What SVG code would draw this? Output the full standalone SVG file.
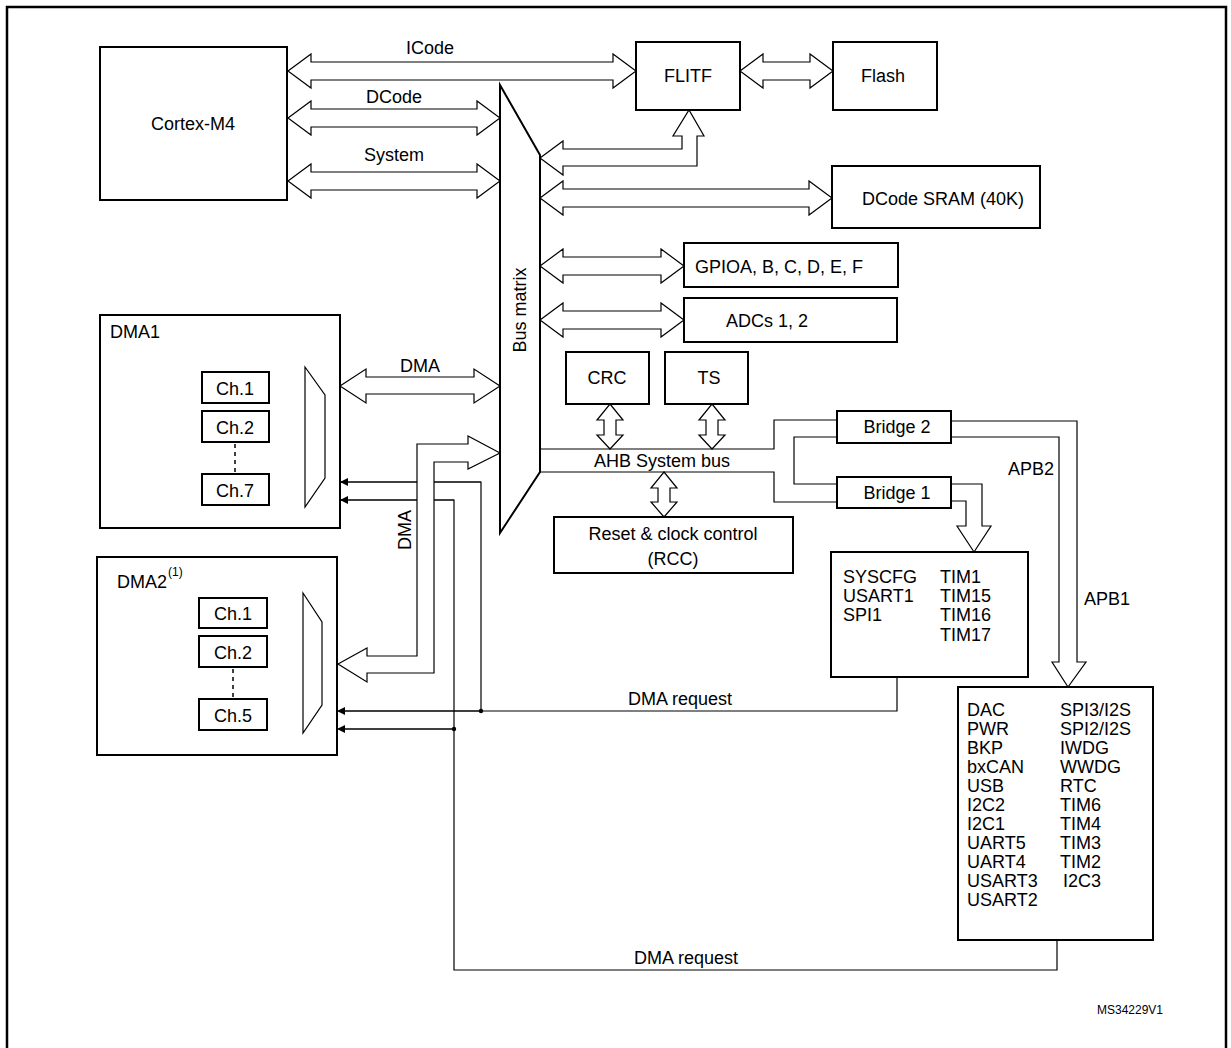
<svg xmlns="http://www.w3.org/2000/svg" width="1231" height="1048" viewBox="0 0 1231 1048">
<style>
.b{fill:#fff;stroke:#000;stroke-width:2}
.a{fill:#fff;stroke:#000;stroke-width:1.2;stroke-linejoin:miter}
.l{fill:none;stroke:#000;stroke-width:1.2}
text{font-family:"Liberation Sans",Arial,sans-serif;font-size:18px;fill:#000}
.s{font-size:12px}
</style>
<defs><marker id="ar" markerWidth="8" markerHeight="8" refX="7" refY="4" orient="auto" markerUnits="userSpaceOnUse"><path d="M0,0 L8,4 L0,8Z" fill="#000"/></marker></defs>
<rect x="0" y="0" width="1231" height="1048" fill="#fff"/>
<rect x="7" y="7" width="1219" height="1050" fill="none" stroke="#000" stroke-width="2.5"/>
<g id="connectors">
<path class="l" d="M340,482 H481 V711 M340,500 H454 V970 H1057 V940 M340,711 H897 V677 M340,729 H454"/>
<path class="l" d="M540,449 H774 V420 H837 M540,472 H774 V502 H837 M837,437 H794 V484 H837"/>
<g marker-end="url(#ar)">
<line class="l" x1="481" y1="482" x2="341" y2="482"/>
<line class="l" x1="454" y1="500" x2="341" y2="500"/>
<line class="l" x1="481" y1="711" x2="338" y2="711"/>
<line class="l" x1="454" y1="729" x2="338" y2="729"/>
<line class="l" x1="269" y1="389" x2="305" y2="389"/>
<line class="l" x1="269" y1="427" x2="305" y2="427"/>
<line class="l" x1="269" y1="489" x2="305" y2="489"/>
<line class="l" x1="267" y1="613" x2="303" y2="613"/>
<line class="l" x1="267" y1="651" x2="303" y2="651"/>
<line class="l" x1="267" y1="714" x2="303" y2="714"/>
</g>
<circle cx="481" cy="711" r="2.2"/><circle cx="454" cy="729" r="2.2"/>
<path class="a" d="M288,71 L311,54 L311,62 L613,62 L613,54 L636,71 L613,88 L613,80 L311,80 L311,88Z"/>
<path class="a" d="M288,118 L311,101 L311,109 L477,109 L477,101 L500,118 L477,135 L477,127 L311,127 L311,135Z"/>
<path class="a" d="M288,181 L311,164 L311,172 L477,172 L477,164 L500,181 L477,198 L477,190 L311,190 L311,198Z"/>
<path class="a" d="M740,71 L763,54 L763,62 L810,62 L810,54 L833,71 L810,88 L810,80 L763,80 L763,88Z"/>
<path class="a" d="M540,198 L563,181 L563,189 L809,189 L809,181 L832,198 L809,215 L809,207 L563,207 L563,215Z"/>
<path class="a" d="M540,266 L563,249 L563,257 L661,257 L661,249 L684,266 L661,283 L661,275 L563,275 L563,283Z"/>
<path class="a" d="M540,320 L563,303 L563,311 L661,311 L661,303 L684,320 L661,337 L661,329 L563,329 L563,337Z"/>
<path class="a" d="M340,386 L366,369 L366,377 L474,377 L474,369 L500,386 L474,403 L474,394 L366,394 L366,403Z"/>
<path class="a" d="M540,158 L563,141 L563,149 L682,149 L682,136 L673,136 L689,110 L704,136 L697,136 L697,166 L563,166 L563,175Z"/>
<path class="a" d="M500,453 L468,436 L468,444 L417,444 L417,656 L367,656 L367,648 L338,664 L367,682 L367,673 L434,673 L434,462 L468,462 L468,469Z"/>
<path class="a" d="M610,404 L623,420 L616,420 L616,435 L623,435 L610,449 L597,435 L604,435 L604,420 L597,420Z"/>
<path class="a" d="M712,404 L725,420 L718,420 L718,435 L725,435 L712,449 L699,435 L706,435 L706,420 L699,420Z"/>
<path class="a" d="M664,472 L677,488 L670,488 L670,502 L677,502 L664,517 L651,502 L658,502 L658,488 L651,488Z"/>
<path class="a" d="M952,484 L982,484 L982,526 L991,526 L974,552 L957,526 L966,526 L966,501 L952,501"/>
<path class="a" d="M951,421 L1077,421 L1077,662 L1086,662 L1068,687 L1052,662 L1059,662 L1059,437 L951,437"/>
<text x="430" y="54" text-anchor="middle">ICode</text>
<text x="394" y="103" text-anchor="middle">DCode</text>
<text x="394" y="161" text-anchor="middle">System</text>
<text x="420" y="372" text-anchor="middle">DMA</text>
<text transform="translate(411,530) rotate(-90)" text-anchor="middle">DMA</text>
<text x="662" y="467" text-anchor="middle">AHB System bus</text>
<text x="1008" y="475">APB2</text>
<text x="1084" y="605">APB1</text>
<text x="680" y="705" text-anchor="middle">DMA request</text>
<text x="686" y="964" text-anchor="middle">DMA request</text>
</g>
<g id="cortex"><rect class="b" x="100" y="47" width="187" height="153"/><text x="193" y="130" text-anchor="middle">Cortex-M4</text></g>
<g id="busmatrix"><path class="b" d="M500,85 L540,155 L540,472 L500,533Z"/><text transform="translate(526,310) rotate(-90)" text-anchor="middle">Bus matrix</text></g>
<g id="flitf"><rect class="b" x="636" y="42" width="104" height="68"/><text x="688" y="82" text-anchor="middle">FLITF</text></g>
<g id="flash"><rect class="b" x="833" y="42" width="104" height="68"/><text x="883" y="82" text-anchor="middle">Flash</text></g>
<g id="sram"><rect class="b" x="832" y="166" width="208" height="62"/><text x="943" y="205" text-anchor="middle">DCode SRAM (40K)</text></g>
<g id="gpio"><rect class="b" x="684" y="243" width="214" height="44"/><text x="695" y="273">GPIOA, B, C, D, E, F</text></g>
<g id="adc"><rect class="b" x="684" y="298" width="213" height="44"/><text x="767" y="327" text-anchor="middle">ADCs 1, 2</text></g>
<g id="crc"><rect class="b" x="566" y="352" width="83" height="52"/><text x="607" y="384" text-anchor="middle">CRC</text></g>
<g id="ts"><rect class="b" x="665" y="352" width="83" height="52"/><text x="709" y="384" text-anchor="middle">TS</text></g>
<g id="rcc"><rect class="b" x="554" y="517" width="239" height="56"/><text x="673" y="540" text-anchor="middle">Reset &amp; clock control</text><text x="673" y="565" text-anchor="middle">(RCC)</text></g>
<g id="bridge2"><rect class="b" x="837" y="411" width="114" height="32"/><text x="897" y="433" text-anchor="middle">Bridge 2</text></g>
<g id="bridge1"><rect class="b" x="837" y="477" width="114" height="31"/><text x="897" y="499" text-anchor="middle">Bridge 1</text></g>
<g id="apb2">
<rect class="b" x="831" y="552" width="197" height="125"/>
<text x="843" y="583">SYSCFG</text><text x="940" y="583">TIM1</text>
<text x="843" y="602">USART1</text><text x="940" y="602">TIM15</text>
<text x="843" y="621">SPI1</text><text x="940" y="621">TIM16</text>
<text x="940" y="641">TIM17</text>
</g>
<g id="apb1">
<rect class="b" x="958" y="687" width="195" height="253"/>
<text x="967" y="716">DAC</text><text x="1060" y="716">SPI3/I2S</text>
<text x="967" y="735">PWR</text><text x="1060" y="735">SPI2/I2S</text>
<text x="967" y="754">BKP</text><text x="1060" y="754">IWDG</text>
<text x="967" y="773">bxCAN</text><text x="1060" y="773">WWDG</text>
<text x="967" y="792">USB</text><text x="1060" y="792">RTC</text>
<text x="967" y="811">I2C2</text><text x="1060" y="811">TIM6</text>
<text x="967" y="830">I2C1</text><text x="1060" y="830">TIM4</text>
<text x="967" y="849">UART5</text><text x="1060" y="849">TIM3</text>
<text x="967" y="868">UART4</text><text x="1060" y="868">TIM2</text>
<text x="967" y="887">USART3</text><text x="1063" y="887">I2C3</text>
<text x="967" y="906">USART2</text>
</g>
<g id="dma1">
<rect class="b" x="100" y="315" width="240" height="213"/><text x="110" y="338">DMA1</text>
<rect class="b" x="202" y="372" width="67" height="31"/><text x="235" y="395" text-anchor="middle">Ch.1</text>
<rect class="b" x="202" y="411" width="67" height="31"/><text x="235" y="434" text-anchor="middle">Ch.2</text>
<line x1="235" y1="444" x2="235" y2="472" stroke="#000" stroke-width="1.5" stroke-dasharray="4,4"/>
<rect class="b" x="202" y="474" width="67" height="31"/><text x="235" y="497" text-anchor="middle">Ch.7</text>
<path class="a" d="M305,367 L325,395 L325,478 L305,507Z"/>
</g>
<g id="dma2">
<rect class="b" x="97" y="557" width="240" height="198"/><text x="117" y="588">DMA2</text><text x="168" y="576" class="s">(1)</text>
<rect class="b" x="199" y="598" width="68" height="30"/><text x="233" y="620" text-anchor="middle">Ch.1</text>
<rect class="b" x="199" y="636" width="68" height="31"/><text x="233" y="659" text-anchor="middle">Ch.2</text>
<line x1="233" y1="669" x2="233" y2="697" stroke="#000" stroke-width="1.5" stroke-dasharray="4,4"/>
<rect class="b" x="199" y="699" width="68" height="31"/><text x="233" y="722" text-anchor="middle">Ch.5</text>
<path class="a" d="M303,593 L322,622 L322,705 L303,733Z"/>
</g>
<text x="1130" y="1014" class="s" text-anchor="middle">MS34229V1</text>
</svg>
